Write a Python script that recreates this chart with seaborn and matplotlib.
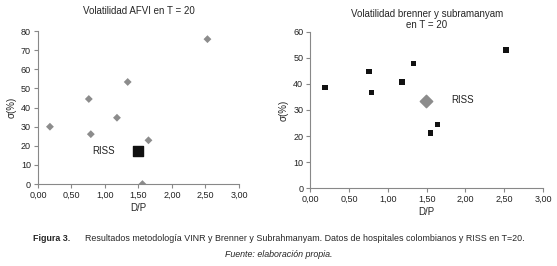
import matplotlib
matplotlib.use("Agg")
import matplotlib.pyplot as plt
import seaborn as sns
import pandas as pd

# datos hospitales (D/P, sigma %)
dp_afvi = [0.18, 0.76, 0.79, 1.18, 1.34, 1.56, 1.65, 2.53]
sigma_afvi = [30.0, 44.5, 26.1, 34.7, 53.4, 0.0, 22.9, 75.8]
riss_afvi = (1.50, 17.5)

dp_bs = [0.19, 0.76, 0.79, 1.18, 1.33, 1.55, 1.64, 2.52]
sigma_bs = [38.6, 44.8, 36.8, 40.7, 47.8, 21.1, 24.5, 53.0]
riss_bs = (1.49, 33.3)

xticks = [0, 0.5, 1.0, 1.5, 2.0, 2.5, 3.0]
xlabels = ['0,00', '0,50', '1,00', '1,50', '2,00', '2,50', '3,00']

sns.set_style("white")
plt.rcParams['font.family'] = ['Liberation Sans', 'DejaVu Sans']
plt.rcParams['font.size'] = 7

fig = plt.figure(figsize=(5.57, 2.66), dpi=100)
ax1 = fig.add_axes([0.068, 0.308, 0.361, 0.575])
ax2 = fig.add_axes([0.557, 0.293, 0.418, 0.587])

df1 = pd.DataFrame({'D/P': dp_afvi, 'sigma': sigma_afvi})
sns.scatterplot(data=df1, x='D/P', y='sigma', ax=ax1, marker='D', s=16,
                color='#8c8c8c', edgecolor='none')
ax1.scatter([riss_afvi[0]], [riss_afvi[1]], marker='s', s=42, color='#111111', zorder=3)
ax1.text(0.81, riss_afvi[1], 'RISS', va='center', ha='left', fontsize=7, color='#222222')
ax1.set_ylim(0, 80)
ax1.set_yticks(range(0, 81, 10))
ax1.set_title('Volatilidad AFVI en T = 20', fontsize=7, pad=12)

df2 = pd.DataFrame({'D/P': dp_bs, 'sigma': sigma_bs})
sns.scatterplot(data=df2, x='D/P', y='sigma', ax=ax2, marker='s', s=16,
                color='#111111', edgecolor='none')
ax2.scatter([riss_bs[0]], [riss_bs[1]], marker='D', s=40, color='#8c8c8c', zorder=3)
ax2.text(1.82, riss_bs[1] + 0.6, 'RISS', va='center', ha='left', fontsize=7, color='#222222')
ax2.set_ylim(0, 60)
ax2.set_yticks(range(0, 61, 10))
ax2.set_title('Volatilidad brenner y subramanyam\nen T = 20', fontsize=7, pad=3, linespacing=1.1)

for ax in (ax1, ax2):
    ax.set_xlim(0, 3)
    ax.set_xticks(xticks)
    ax.set_xticklabels(xlabels)
    ax.set_xlabel('D/P', fontsize=7, labelpad=2)
    ax.set_ylabel('σ(%)', fontsize=7, labelpad=3)
    sns.despine(ax=ax)
    for s in ('left', 'bottom'):
        ax.spines[s].set_color('#888888')
        ax.spines[s].set_linewidth(0.8)
    ax.tick_params(axis='both', direction='out', length=3, width=0.8,
                   color='#888888', labelsize=6.5, pad=2, labelcolor='#222222')
    ax.tick_params(left=True, bottom=True)

cap_font = ['Liberation Sans', 'DejaVu Sans']
fig.text(0.059, 0.095, 'Figura 3.', fontsize=6.4, fontweight='bold', family=cap_font, va='baseline')
fig.text(0.153, 0.095,
         'Resultados metodología VINR y Brenner y Subrahmanyam. Datos de hospitales colombianos y RISS en T=20.',
         fontsize=6.4, family=cap_font, va='baseline')
fig.text(0.5, 0.035, 'Fuente: elaboración propia.', fontsize=6.4, style='italic',
         family=cap_font, ha='center', va='baseline')

fig.savefig('out.png', dpi=100)
